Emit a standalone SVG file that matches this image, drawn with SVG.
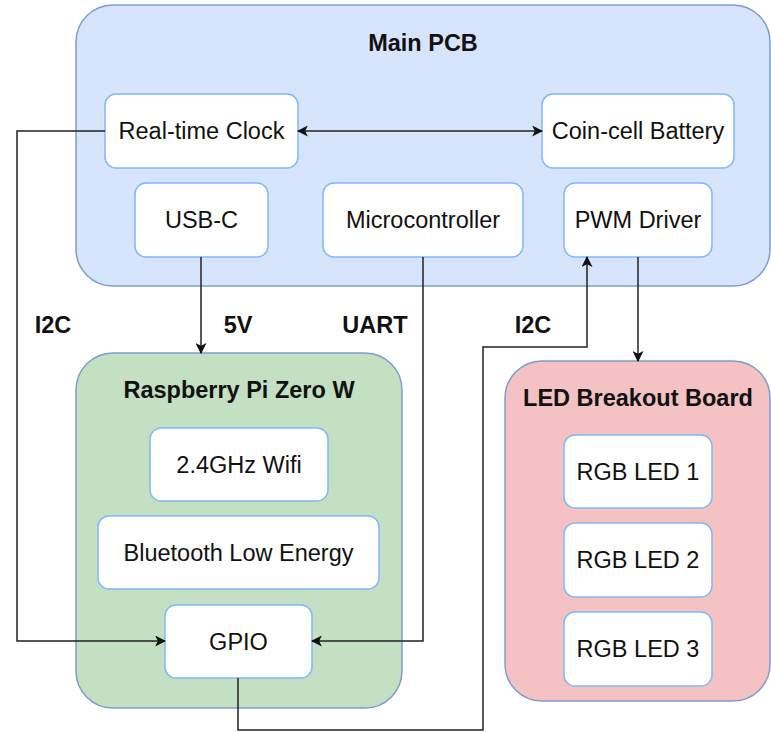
<svg xmlns="http://www.w3.org/2000/svg" width="771" height="732" viewBox="0 0 771 732">
<style>
  .cont { stroke: #7d9ccf; stroke-width: 1.5; }
  .box { fill: #ffffff; stroke: #80b8fa; stroke-width: 1.5; }
  .t { font-family: "Liberation Sans", Arial, sans-serif; font-size: 23.5px; fill: #111; text-anchor: middle; }
  .b { font-weight: bold; }
  .edge { fill: none; stroke: #222; stroke-width: 1.5; }
</style>
<defs>
  <marker id="arr" viewBox="0 0 10 10" refX="9" refY="5" markerWidth="11" markerHeight="11" markerUnits="userSpaceOnUse" orient="auto-start-reverse">
    <path d="M0,0 L10,5 L0,10 L2.5,5 Z" fill="#111"/>
  </marker>
</defs>
<rect width="771" height="732" fill="#ffffff"/>

<g id="main-pcb">
  <rect class="cont" x="76" y="5" width="694" height="281" rx="37" fill="#d6e5fb"/>
  <text class="t b" x="423" y="51">Main PCB</text>
</g>
<g id="rpi">
  <rect class="cont" x="76" y="353" width="326" height="355" rx="37" fill="#c4e0c3"/>
  <text class="t b" x="239" y="398">Raspberry Pi Zero W</text>
</g>
<g id="led-board">
  <rect class="cont" x="505" y="361" width="265" height="340" rx="37" fill="#f4c2c2"/>
  <text class="t b" x="638" y="406">LED Breakout Board</text>
</g>

<g id="rtc"><rect class="box" x="105" y="94" width="193" height="74" rx="11"/><text class="t" x="201.5" y="139">Real-time Clock</text></g>
<g id="battery"><rect class="box" x="542" y="94" width="192" height="74" rx="11"/><text class="t" x="638" y="139">Coin-cell Battery</text></g>
<g id="usbc"><rect class="box" x="135" y="183" width="133" height="74" rx="11"/><text class="t" x="201.5" y="228">USB-C</text></g>
<g id="mcu"><rect class="box" x="323" y="183" width="200" height="74" rx="11"/><text class="t" x="423" y="228">Microcontroller</text></g>
<g id="pwm"><rect class="box" x="564" y="183" width="148" height="74" rx="11"/><text class="t" x="638" y="228">PWM Driver</text></g>

<g id="wifi"><rect class="box" x="150" y="428" width="178" height="73" rx="11"/><text class="t" x="239" y="472.5">2.4GHz Wifi</text></g>
<g id="ble"><rect class="box" x="98" y="516" width="281" height="73" rx="11"/><text class="t" x="238.5" y="560.5">Bluetooth Low Energy</text></g>
<g id="gpio"><rect class="box" x="165" y="605" width="147" height="73" rx="11"/><text class="t" x="238.5" y="649.5">GPIO</text></g>

<g id="led1"><rect class="box" x="564" y="435" width="148" height="73" rx="11"/><text class="t" x="638" y="479.5">RGB LED 1</text></g>
<g id="led2"><rect class="box" x="564" y="523" width="148" height="74" rx="11"/><text class="t" x="638" y="568">RGB LED 2</text></g>
<g id="led3"><rect class="box" x="564" y="612" width="148" height="74" rx="11"/><text class="t" x="638" y="657">RGB LED 3</text></g>

<g id="connectors">
  <path class="edge" d="M298,131 L542,131" marker-start="url(#arr)" marker-end="url(#arr)"/>
  <path class="edge" d="M105,131 L17,131 L17,641 L165,641" marker-end="url(#arr)"/>
  <path class="edge" d="M201,257 L201,353" marker-end="url(#arr)"/>
  <path class="edge" d="M423,257 L423,641 L312,641" marker-end="url(#arr)"/>
  <path class="edge" d="M238,678 L238,730 L483,730 L483,347 L587,347 L587,257" marker-end="url(#arr)"/>
  <path class="edge" d="M638,257 L638,361" marker-end="url(#arr)"/>
  <text class="t b" x="53" y="332.5">I2C</text>
  <text class="t b" x="238" y="332.5">5V</text>
  <text class="t b" x="375" y="332.5">UART</text>
  <text class="t b" x="533" y="332.5">I2C</text>
</g>
</svg>
